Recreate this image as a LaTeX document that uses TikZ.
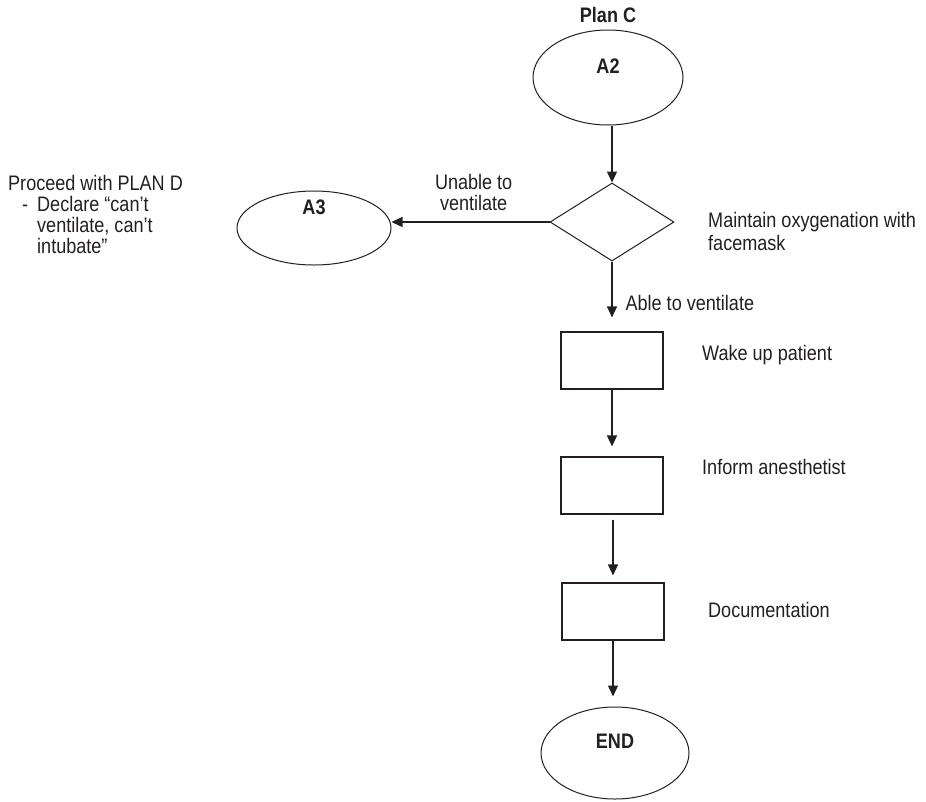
\documentclass[tikz,border=0pt]{standalone}
\usepackage{fontspec}
\setmainfont{Liberation Sans}[FakeStretch=0.86]
\usetikzlibrary{shapes.geometric,arrows.meta}
\definecolor{ink}{RGB}{35,31,32}
\begin{document}
\begin{tikzpicture}[x=1pt,y=-1pt,
  every node/.style={text=ink},
  txt/.style={font=\fontsize{21}{21}\selectfont, inner sep=0pt},
  boldtxt/.style={txt, font=\fontsize{21}{21}\selectfont\bfseries},
  oval/.style={draw=ink, line width=1pt, ellipse, inner sep=0pt},
  stepbox/.style={draw=ink, line width=1.1pt, rectangle, inner sep=0pt,
                  minimum width=102pt, minimum height=57pt},
  decision/.style={draw=ink, line width=1pt, diamond, inner sep=0pt,
                   minimum width=124pt, minimum height=78pt},
  flow/.style={draw=ink, line width=1.2pt,
               -{Triangle[length=11pt,width=10pt]}}]
\useasboundingbox (0,0) rectangle (926,801);

% title
\node[boldtxt] (title) at (608,15) {Plan C};

% start / end / branch ovals
\node[oval, minimum width=150pt, minimum height=95pt,
      label={[boldtxt, yshift=11pt]center:A2}]
      (a2) at (608,77.5) {};
\node[oval, minimum width=154pt, minimum height=74pt,
      label={[boldtxt, yshift=21pt]center:A3}]
      (a3) at (314,228) {};
\node[oval, minimum width=148pt, minimum height=92pt,
      label={[boldtxt, yshift=12pt]center:END}]
      (end) at (615,753) {};

% decision and steps
\node[decision] (dia) at (612,222) {};
\node[stepbox] (wake) at (612,360.5) {};
\node[stepbox] (inform) at (612,485.5) {};
\node[stepbox] (doc) at (613,611.5) {};

% step descriptions
\node[txt, align=left, anchor=west, font=\fontsize{21}{23}\selectfont]
  (dianote) at (708,231.5) {Maintain oxygenation with\\facemask};
\node[txt, anchor=west] (wakenote) at (702,355) {Wake up patient};
\node[txt, anchor=west] (informnote) at (702,467) {Inform anesthetist};
\node[txt, anchor=west] (docnote) at (708,610) {Documentation};
\node[txt, align=left, anchor=north west] (plannote) at (8,175)
  {Proceed with PLAN D\\
   \makebox[29pt][l]{\hspace*{14pt}-}Declare “can’t\\
   \hspace*{29pt}ventilate, can’t\\
   \hspace*{29pt}intubate”};

% connectors
\draw[flow] (dia.north |- a2.south) -- (dia.north);
\draw[flow] (dia.west) -- (a3.east |- dia.west)
  node[txt, align=center, pos=0.48, above=11pt] (nolabel) {Unable to\\ventilate};
\draw[flow, shorten >=14pt] (dia.south) -- (wake.north)
  node[txt, anchor=west, pos=0.6, xshift=13pt] (yeslabel) {Able to ventilate};
\draw[flow, shorten >=10pt] (wake.south) -- (inform.north);
\draw[flow, shorten <=5pt, shorten >=7pt] (inform.south -| doc.north) -- (doc.north);
\draw[flow, shorten >=10pt] (doc.south) -- (end.north -| doc.south);
\end{tikzpicture}
\end{document}
